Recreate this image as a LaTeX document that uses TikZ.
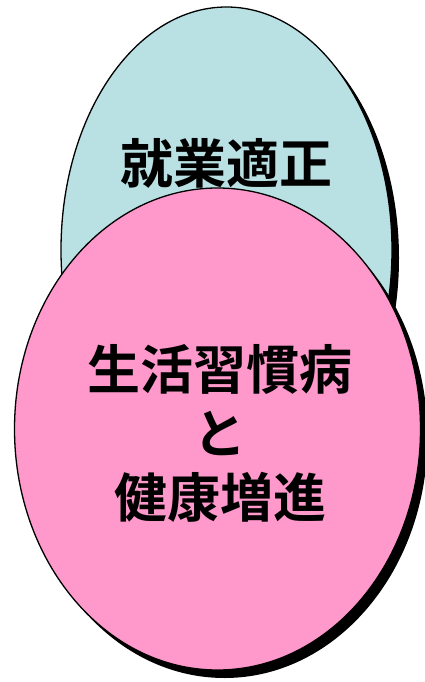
\documentclass[tikz,border=0pt]{standalone}
\usepackage{fontspec}
\newfontfamily\cjk{Noto Sans CJK JP}[BoldFont={Noto Sans CJK JP Bold}]
\usetikzlibrary{shapes.geometric}
\definecolor{bluefill}{RGB}{185,224,227}
\definecolor{pinkfill}{RGB}{255,153,204}
\begin{document}
\begin{tikzpicture}[x=1pt,y=-1pt,
  oval/.style={ellipse, draw=black, line width=1.3pt, inner sep=0pt},
  ovalshade/.style={ellipse, fill=black, draw=none, inner sep=0pt},
  ovaltext/.style={font=\cjk\bfseries\fontsize{53}{64}\selectfont, align=center, text=black, inner sep=0pt}]
\useasboundingbox (0,0) rectangle (425,682);
% upper ellipse
\node[ovalshade, minimum width=331pt, minimum height=486pt] (blueshade) at (233.5,258) {};
\node[oval, fill=bluefill, minimum width=331pt, minimum height=486pt] (blue) at (226.5,250) {};
% lower ellipse
\node[ovalshade, minimum width=406pt, minimum height=482pt] (pinkshade) at (224.5,437) {};
\node[oval, fill=pinkfill, minimum width=406pt, minimum height=482pt] (pink) at (217.5,429) {};
% texts
\node[ovaltext] (bluetext) at (226,163) {就業適正};
\node[ovaltext] (pinktext) at (220,433) {生活習慣病\\と\\健康増進};
\end{tikzpicture}
\end{document}
